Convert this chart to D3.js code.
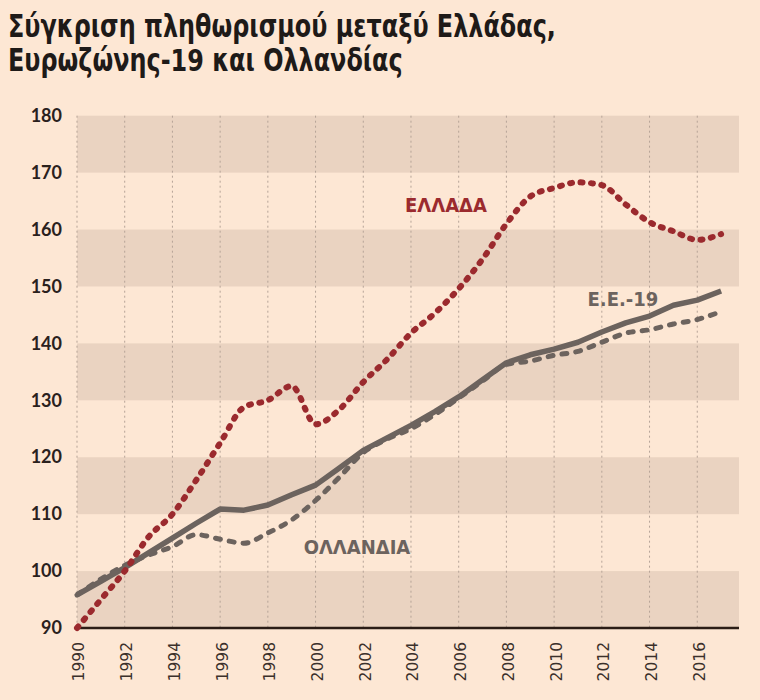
<!DOCTYPE html>
<html>
<head>
<meta charset="utf-8">
<script src="https://cdn.jsdelivr.net/npm/d3@7/dist/d3.min.js"></script>
<style>
  html, body { margin: 0; padding: 0; background: #fde7d4; }
  svg { display: block; }
</style>
</head>
<body>
<svg id="chart" width="760" height="700"></svg>
<script>
// ---- Data ----
const years = [1990,1991,1992,1993,1994,1995,1996,1997,1998,1999,2000,2001,2002,2003,2004,2005,2006,2007,2008,2009,2010,2011,2012,2013,2014,2015,2016,2017];
const greece = [90,95,100,106,110,116,122.5,128.8,130,132.5,125.8,128.4,133.2,137.2,141.8,145.3,149.6,154.8,161,165.8,167.3,168.3,167.8,164.4,161.3,159.7,158.2,159.2];
const eurozone = [95.8,98.2,100.6,103.2,105.8,108.4,110.9,110.7,111.6,113.4,115.1,118.1,121.2,123.4,125.6,128.0,130.6,133.6,136.6,138.0,139.0,140.2,142.0,143.6,144.8,146.7,147.6,149.2];
const netherlands = [95.8,98.6,101,102.8,104.3,106.4,105.6,104.9,106.7,109,112.4,116.5,120.8,123.2,125.0,127.5,130.4,133.4,136.3,136.9,137.9,138.6,140.2,141.8,142.4,143.4,144.2,145.6];
const yTicks = [90,100,110,120,130,140,150,160,170,180];
const xTicks = [1990,1992,1994,1996,1998,2000,2002,2004,2006,2008,2010,2012,2014,2016];
const bands = [[170,180],[150,160],[130,140],[110,120],[90,100]];
const titleLines = ["Σύγκριση πληθωρισμού μεταξύ Ελλάδας,", "Ευρωζώνης-19 και Ολλανδίας"];
const seriesLabels = [
  {text: "ΕΛΛΑΔΑ", year: 2003.75, value: 163.0, color: "#9b2a2e"},
  {text: "Ε.Ε.-19", year: 2011.4, value: 146.6, color: "#6c635e"},
  {text: "ΟΛΛΑΝΔΙΑ", year: 1999.5, value: 103.0, color: "#6c635e"}
];

(function () {
// ---- Layout ----
const svg = d3.select("#chart");
const pLeft = 77, pRight = 739, pTop = 115.7, pBottom = 628;
const xEnd = 2017.75;
const x = d3.scaleLinear().domain([1990, xEnd]).range([pLeft, pRight]);
const y = d3.scaleLinear().domain([90, 180]).range([pBottom, pTop]);

const bg = "#fde7d4", band = "#ead3c1", red = "#9b2a2e", grey = "#6c635e";

svg.append("rect").attr("width", 760).attr("height", 700).attr("fill", bg);

// Title
const title = svg.append("g");
titleLines.forEach((t, i) => {
  title.append("text")
    .attr("x", 0).attr("y", 37 + i * 34)
    .attr("font-family", "'DejaVu Sans Condensed', 'DejaVu Sans', sans-serif")
    .attr("font-weight", "bold")
    .attr("font-size", 31)
    .attr("fill", "#1e1a18")
    .text(t);
});
{
  const n = title.selectAll("text").nodes();
  const w = n[0].getComputedTextLength();
  const sx = 548 / w;
  title.attr("transform", `translate(8,0) scale(${sx},1)`);
}

// Bands
svg.append("g").selectAll("rect").data(bands).join("rect")
  .attr("x", pLeft).attr("width", pRight - pLeft)
  .attr("y", d => y(d[1])).attr("height", d => y(d[0]) - y(d[1]))
  .attr("fill", band);

// Vertical dotted gridlines
svg.append("g").selectAll("line").data(xTicks).join("line")
  .attr("x1", d => x(d)).attr("x2", d => x(d))
  .attr("y1", pTop).attr("y2", pBottom)
  .attr("stroke", "#b5a397").attr("stroke-width", 1)
  .attr("stroke-dasharray", "2,3");

// Y axis
const yAxis = svg.append("g").attr("transform", `translate(${pLeft},0)`)
  .call(d3.axisLeft(y).tickValues(yTicks).tickSize(0).tickPadding(15));
yAxis.select(".domain").remove();
yAxis.selectAll("text")
  .attr("font-family", "Lato, 'Open Sans', sans-serif")
  .attr("font-weight", "bold")
  .attr("font-size", 18)
  .attr("fill", "#2a211d");

// X axis
const xAxis = svg.append("g").attr("transform", `translate(0,${pBottom})`)
  .call(d3.axisBottom(x).tickValues(xTicks).tickFormat(d3.format("d")).tickSize(0));
xAxis.select(".domain").remove();
xAxis.selectAll("text")
  .attr("font-family", "'DejaVu Sans', sans-serif")
  .attr("font-size", 15.5)
  .attr("fill", "#3b302b")
  .attr("transform", "rotate(-90)")
  .attr("text-anchor", "end")
  .attr("x", -14).attr("y", 0).attr("dy", "0.45em");

svg.append("line")
  .attr("x1", pLeft).attr("x2", pRight).attr("y1", pBottom).attr("y2", pBottom)
  .attr("stroke", "#2a1c16").attr("stroke-width", 2.5);

// Lines
const line = d3.line().x((d, i) => x(years[i])).y(d => y(d));
const smooth = d3.line().x((d, i) => x(years[i])).y(d => y(d)).curve(d3.curveMonotoneX);

svg.append("path").datum(netherlands)
  .attr("d", smooth).attr("fill", "none")
  .attr("stroke", grey).attr("stroke-width", 5)
  .attr("stroke-linecap", "round").attr("stroke-dasharray", "5,9");

svg.append("path").datum(eurozone)
  .attr("d", line).attr("fill", "none")
  .attr("stroke", grey).attr("stroke-width", 5.5)
  .attr("stroke-linejoin", "round");

svg.append("path").datum(greece)
  .attr("d", smooth).attr("fill", "none")
  .attr("stroke", red).attr("stroke-width", 6)
  .attr("stroke-linecap", "round").attr("stroke-dasharray", "2,8.5");

// Series labels
svg.append("g").selectAll("text").data(seriesLabels).join("text")
  .attr("x", d => x(d.year)).attr("y", d => y(d.value))
  .attr("font-family", "'DejaVu Sans Condensed', 'DejaVu Sans', sans-serif")
  .attr("font-weight", "bold").attr("font-size", 20)
  .attr("fill", d => d.color)
  .text(d => d.text);
})();
</script>
</body>
</html>
